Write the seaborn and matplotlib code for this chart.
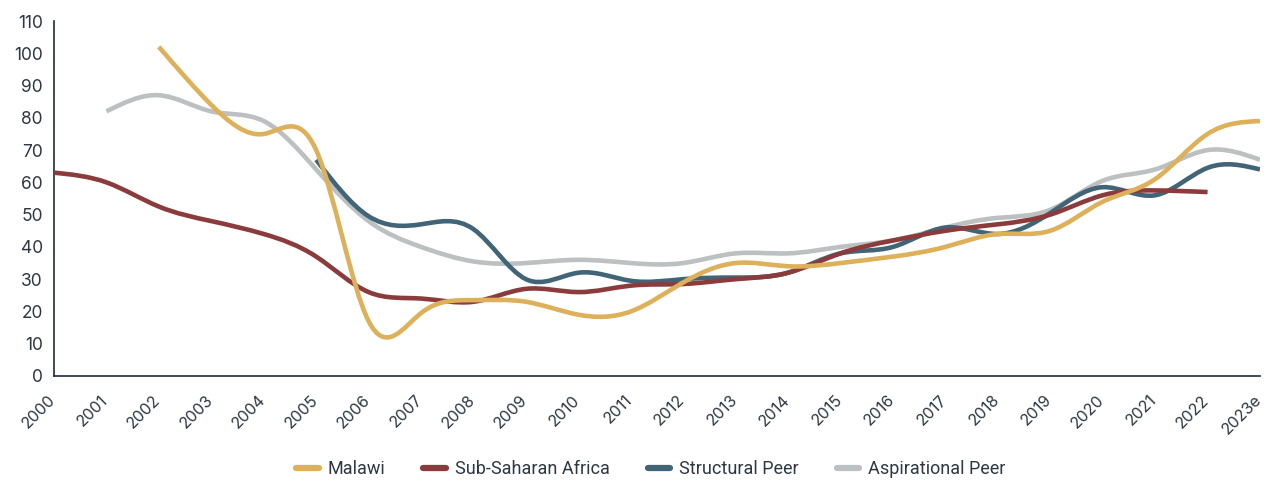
import numpy as np
import pandas as pd
import matplotlib
matplotlib.use("Agg")
import matplotlib.pyplot as plt
import matplotlib.transforms as mtransforms
from matplotlib.path import Path
from matplotlib.patches import PathPatch
from matplotlib.lines import Line2D
import seaborn as sns

years = list(range(2000, 2024))
year_labels = [str(y) for y in range(2000, 2023)] + ["2023e"]

malawi = [None, None, 102, 84, 75, 70, 17, 19.5, 23.5, 23, 19, 20, 29, 35, 34, 35, 37, 40, 44, 45, 54, 61, 75, 79]
ssa = [63, 60, 52.5, 48, 44, 37, 26, 24, 23, 27, 26, 28, 28.5, 30, 32, 38, 42, 45, 47, 50, 56, 57.5, 57, None]
structural = [None, None, None, None, None, 67, 49.5, 47, 45.5, 30, 32, 29.5, 30, 30.5, 32, 38, 40, 46, 44, 50.5, 58.5, 56, 64.5, 64]
aspirational = [None, 82, 87, 82, 79, 64, 48, 40, 35.5, 35, 36, 35, 35, 38, 38, 40, 42, 46, 49, 51.5, 60.5, 64, 70, 67]

series_names = ["Malawi", "Sub-Saharan Africa", "Structural Peer", "Aspirational Peer"]
series_values = [malawi, ssa, structural, aspirational]
colors = {"Malawi": "#DDB05A", "Sub-Saharan Africa": "#8B3B3C",
          "Structural Peer": "#416576", "Aspirational Peer": "#BCC0C1"}
zorders = {"Malawi": 6, "Sub-Saharan Africa": 5, "Structural Peer": 4, "Aspirational Peer": 3}

df = pd.DataFrame({"year": years, **dict(zip(series_names, series_values))})
long = df.melt(id_vars="year", var_name="series", value_name="value").dropna()

sns.set_theme(style="white")
plt.rcParams["font.family"] = ["Inter", "DejaVu Sans"]

fig = plt.figure(figsize=(12.64, 4.84), dpi=100)
ax = fig.add_axes([54 / 1264, 1 - 376 / 484, (1260 - 54) / 1264, (376 - 21) / 484])

# invisible seaborn layer to establish scales from the data
sns.lineplot(data=long, x="year", y="value", hue="series", ax=ax,
             palette=colors, linewidth=0, legend=False, estimator=None)


def natural_spline_path(x, y):
    x = np.asarray(x, float)
    y = np.asarray(y, float)
    n = len(x) - 1
    h = np.diff(x)
    A = np.zeros((n + 1, n + 1))
    r = np.zeros(n + 1)
    A[0, 0] = 1
    A[n, n] = 1
    for i in range(1, n):
        A[i, i - 1] = h[i - 1]
        A[i, i] = 2 * (h[i - 1] + h[i])
        A[i, i + 1] = h[i]
        r[i] = 6 * ((y[i + 1] - y[i]) / h[i] - (y[i] - y[i - 1]) / h[i - 1])
    M = np.linalg.solve(A, r)
    m = np.zeros(n + 1)
    for i in range(n):
        m[i] = (y[i + 1] - y[i]) / h[i] - h[i] * (2 * M[i] + M[i + 1]) / 6
    m[n] = (y[n] - y[n - 1]) / h[n - 1] + h[n - 1] * (M[n - 1] + 2 * M[n]) / 6
    verts = [(x[0], y[0])]
    codes = [Path.MOVETO]
    for i in range(n):
        verts += [(x[i] + h[i] / 3, y[i] + h[i] * m[i] / 3),
                  (x[i + 1] - h[i] / 3, y[i + 1] - h[i] * m[i + 1] / 3),
                  (x[i + 1], y[i + 1])]
        codes += [Path.CURVE4] * 3
    return Path(verts, codes)


for name in series_names:
    sub = long[long["series"] == name]
    path = natural_spline_path(sub["year"].values, sub["value"].values)
    ax.add_patch(PathPatch(path, fill=False, edgecolor=colors[name],
                           linewidth=3.3, capstyle="butt", joinstyle="round",
                           zorder=zorders[name]))

spine_color = "#1F2B38"
text_color = "#2E3742"
ax.set_xlim(2000, 2023)
ax.set_ylim(0, 110)
ax.set_yticks(range(0, 111, 10))
ax.set_xticks(years)
ax.set_xticklabels(year_labels, rotation=45, ha="right", va="top", rotation_mode="anchor")
for s in ["top", "right"]:
    ax.spines[s].set_visible(False)
for s in ["left", "bottom"]:
    ax.spines[s].set_color(spine_color)
    ax.spines[s].set_linewidth(1.2)
ax.tick_params(axis="both", which="major", direction="out", length=5, width=1.1,
               color=spine_color, labelcolor=text_color)
ax.tick_params(axis="x", pad=6, labelsize=11.5)
ax.tick_params(axis="y", pad=3, labelsize=12.5)
offset = mtransforms.ScaledTranslation(-6 / 100, -1 / 100, fig.dpi_scale_trans)
for lab in ax.get_xticklabels():
    lab.set_transform(lab.get_transform() + offset)
ax.set_xlabel("")
ax.set_ylabel("")
ax.grid(False)

handles = [Line2D([0], [0], color=colors[n], linewidth=4.5) for n in series_names]
fig.legend(handles, series_names, loc="lower center", bbox_to_anchor=(0.515, -0.022),
           ncol=4, frameon=False, handlelength=1.25, handletextpad=0.5,
           columnspacing=2.1, prop={"family": ["Roboto", "DejaVu Sans"], "size": 13})
for t in fig.legends[0].get_texts():
    t.set_color(text_color)

fig.savefig("out.png", dpi=100)
